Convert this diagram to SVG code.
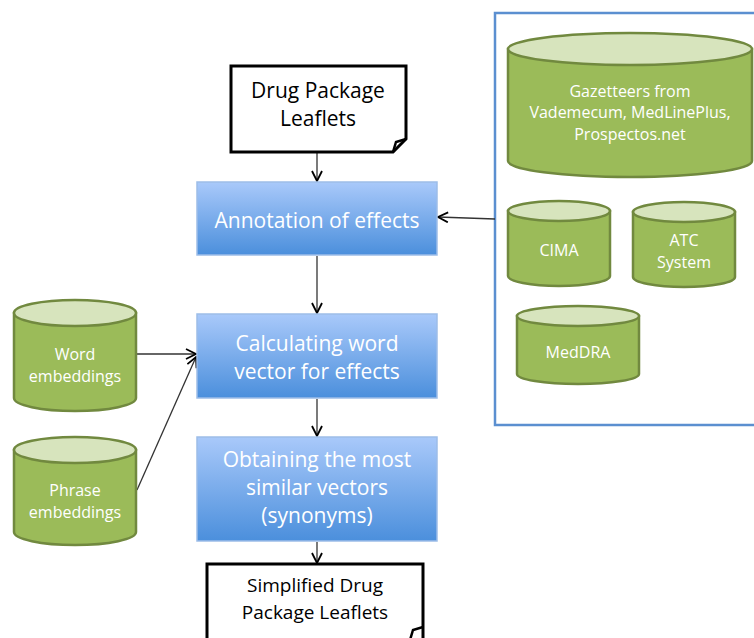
<svg xmlns="http://www.w3.org/2000/svg" width="754" height="638" viewBox="0 0 754 638">
<defs>
<linearGradient id="blueG" x1="0" y1="0" x2="0" y2="1">
<stop offset="0" stop-color="#a9c9fa"/>
<stop offset="1" stop-color="#4b8fdc"/>
</linearGradient>
<marker id="arr" viewBox="0 0 12 12" refX="11" refY="6" markerWidth="12" markerHeight="12" markerUnits="userSpaceOnUse" orient="auto">
<path d="M1,1 L11,6 L1,11" fill="none" stroke="#000" stroke-width="1.8"/>
</marker>
</defs>
<style>
.doc{fill:#fff;stroke:#000;stroke-width:3}
.proc{fill:url(#blueG);stroke:#9dbde8;stroke-width:1.5}
.cyl{fill:#9bbb59;stroke:#71893f;stroke-width:2.5}
.top{fill:#d7e4bd;stroke:#71893f;stroke-width:2.5}
.wt{fill:#fff;font-family:"Open Sans","Liberation Sans",sans-serif;text-anchor:middle}
.bt{fill:#000;font-family:"Open Sans","Liberation Sans",sans-serif;text-anchor:middle}
.conn{stroke:#333;stroke-width:1.3;fill:none;marker-end:url(#arr)}
</style>
<rect x="495" y="13" width="270" height="412" fill="#fff" stroke="#5b8fd0" stroke-width="2.5"/>
<g id="connectors">
<line class="conn" x1="317" y1="153" x2="317" y2="181"/>
<line class="conn" x1="317" y1="256" x2="317" y2="313"/>
<line class="conn" x1="317" y1="399" x2="317" y2="436"/>
<line class="conn" x1="317" y1="542" x2="317" y2="563"/>
<line class="conn" x1="495" y1="219" x2="438" y2="217"/>
<line class="conn" x1="137" y1="354" x2="196" y2="354"/>
<line class="conn" x1="137" y1="490" x2="196" y2="357"/>
</g>
<g id="drug-leaflets">
<path class="doc" d="M231,66 H406 V139 L393,152 H231 Z"/>
<path d="M393,152 L396,142 L406,139" fill="none" stroke="#000" stroke-width="2.5"/>
<text class="bt" font-size="21" x="318" y="98">Drug Package</text>
<text class="bt" font-size="21" x="318" y="126">Leaflets</text>
</g>
<g id="annotation">
<rect class="proc" x="197" y="182" width="240" height="73"/>
<text class="wt" font-size="21" x="317" y="228">Annotation of effects</text>
</g>
<g id="calculating">
<rect class="proc" x="197" y="314" width="240" height="84"/>
<text class="wt" font-size="21" x="317" y="351">Calculating word</text>
<text class="wt" font-size="21" x="317" y="379">vector for effects</text>
</g>
<g id="obtaining">
<rect class="proc" x="197" y="437" width="240" height="104"/>
<text class="wt" font-size="21" x="317" y="467">Obtaining the most</text>
<text class="wt" font-size="21" x="317" y="495">similar vectors</text>
<text class="wt" font-size="21" x="317" y="523">(synonyms)</text>
</g>
<g id="simplified-leaflets">
<path class="doc" d="M207,564 H423 V640 H207 Z"/>
<path d="M410,640 L413,630 L423,627" fill="none" stroke="#000" stroke-width="2.5"/>
<text class="bt" font-size="19" x="315" y="592">Simplified Drug</text>
<text class="bt" font-size="19" x="315" y="619">Package Leaflets</text>
</g>
<g id="gazetteers">
<path class="cyl" d="M508,49 V161 A122,16 0 0 0 752,161 V49 Z"/>
<ellipse class="top" cx="630" cy="49" rx="122" ry="16"/>
<text class="wt" font-size="16" x="630" y="97">Gazetteers from</text>
<text class="wt" font-size="16" x="630" y="118">Vademecum, MedLinePlus,</text>
<text class="wt" font-size="16" x="630" y="140">Prospectos.net</text>
</g>
<g id="cima">
<path class="cyl" d="M508,211 V276 A51,10 0 0 0 610,276 V211 Z"/>
<ellipse class="top" cx="559" cy="211" rx="51" ry="10"/>
<text class="wt" font-size="16" x="559" y="256">CIMA</text>
</g>
<g id="atc">
<path class="cyl" d="M633,212 V277 A51,10 0 0 0 735,277 V212 Z"/>
<ellipse class="top" cx="684" cy="212" rx="51" ry="10"/>
<text class="wt" font-size="16" x="684" y="246">ATC</text>
<text class="wt" font-size="16" x="684" y="268">System</text>
</g>
<g id="meddra">
<path class="cyl" d="M517,316 V374 A61,10 0 0 0 639,374 V316 Z"/>
<ellipse class="top" cx="578" cy="316" rx="61" ry="10"/>
<text class="wt" font-size="16" x="578" y="358">MedDRA</text>
</g>
<g id="word-embeddings">
<path class="cyl" d="M14,313 V398 A61,13 0 0 0 136,398 V313 Z"/>
<ellipse class="top" cx="75" cy="313" rx="61" ry="13"/>
<text class="wt" font-size="16" x="75" y="360">Word</text>
<text class="wt" font-size="16" x="75" y="382">embeddings</text>
</g>
<g id="phrase-embeddings">
<path class="cyl" d="M14,450 V532 A61,13 0 0 0 136,532 V450 Z"/>
<ellipse class="top" cx="75" cy="450" rx="61" ry="13"/>
<text class="wt" font-size="16" x="75" y="496">Phrase</text>
<text class="wt" font-size="16" x="75" y="518">embeddings</text>
</g>
</svg>
